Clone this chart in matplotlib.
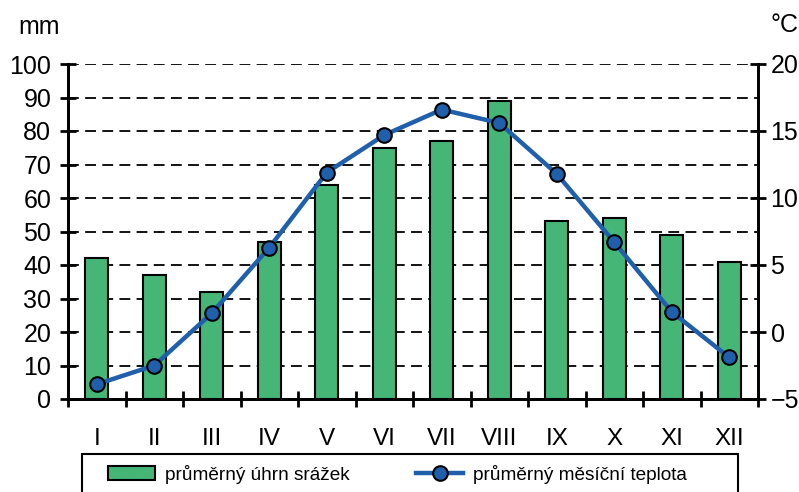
import matplotlib.pyplot as plt
from matplotlib.patches import Rectangle
from matplotlib.ticker import FixedLocator

plt.rcParams['font.family'] = ['Liberation Sans', 'DejaVu Sans']

# monthly climate data
months = ['I', 'II', 'III', 'IV', 'V', 'VI', 'VII', 'VIII', 'IX', 'X', 'XI', 'XII']
precip = [42, 37, 32, 47, 64, 75, 77, 89, 53, 54, 49, 41]  # mm
temp = [-3.9, -2.5, 1.4, 6.3, 11.9, 14.7, 16.6, 15.6, 11.8, 6.7, 1.5, -1.9]  # °C

green = '#46b677'
blue = '#1f5fab'

fig = plt.figure(figsize=(7.99, 4.92), dpi=100)
ax = fig.add_axes([68/799, 1 - 399/492, 690/799, 335/492])
x = list(range(len(months)))

ax.bar(x, precip, width=0.4, color=green, edgecolor='black', linewidth=1.5,
       label='průměrný úhrn srážek', zorder=2)
ax.set_xlim(-0.5, 11.5)
ax.set_ylim(0, 100)
ax.set_yticks(range(0, 101, 10))
ax.set_axisbelow(True)
ax.yaxis.grid(True, color='black', linestyle=(0, (6, 3.5)), linewidth=1.3)

ax.set_xticks(x)
ax.set_xticklabels(months)
ax.xaxis.set_minor_locator(FixedLocator([i - 0.5 for i in range(13)]))
ax.tick_params(axis='x', which='major', length=0, pad=21, labelsize=17.5)
ax.tick_params(axis='x', which='minor', direction='inout', length=12, width=2)
ax.tick_params(axis='y', direction='inout', length=12, width=2, pad=6, labelsize=18)

for s in ['left', 'bottom', 'right']:
    ax.spines[s].set_linewidth(2)
ax.spines['top'].set_visible(False)

ax2 = ax.twinx()
ax2.plot(x, temp, color=blue, linewidth=3.2, marker='o', markersize=10.5,
         markerfacecolor=blue, markeredgecolor='black', markeredgewidth=1.5,
         label='průměrný měsíční teplota', clip_on=False, zorder=3)
ax2.set_ylim(-5, 20)
ax2.set_yticks(range(-5, 21, 5))
ax2.tick_params(axis='y', direction='inout', length=12, width=2, pad=3, labelsize=18)
for s in ['left', 'bottom', 'right']:
    ax2.spines[s].set_linewidth(2)
ax2.spines['top'].set_visible(False)

fig.text(18/799, 1 - 27/492, 'mm', fontsize=18, va='center', ha='left')
fig.text(770/799, 1 - 25/492, '°C', fontsize=18, va='center', ha='left')

# legend box along the bottom edge
fig.patches.append(Rectangle((82/799, -0.05), (738 - 82)/799, (0.05 + 1 - 454/492),
                             transform=fig.transFigure, facecolor='white',
                             edgecolor='black', linewidth=1.5, clip_on=False))
h1, l1 = ax.get_legend_handles_labels()
h2, l2 = ax2.get_legend_handles_labels()
fig.legend(h1 + h2, l1 + l2, ncol=2, loc='center left',
           bbox_to_anchor=(98/799, 1 - 474/492), frameon=False, fontsize=13.7,
           handlelength=2.5, handleheight=0.8, handletextpad=0.5,
           columnspacing=3.5, borderpad=0)

fig.savefig('out.png', dpi=100)
